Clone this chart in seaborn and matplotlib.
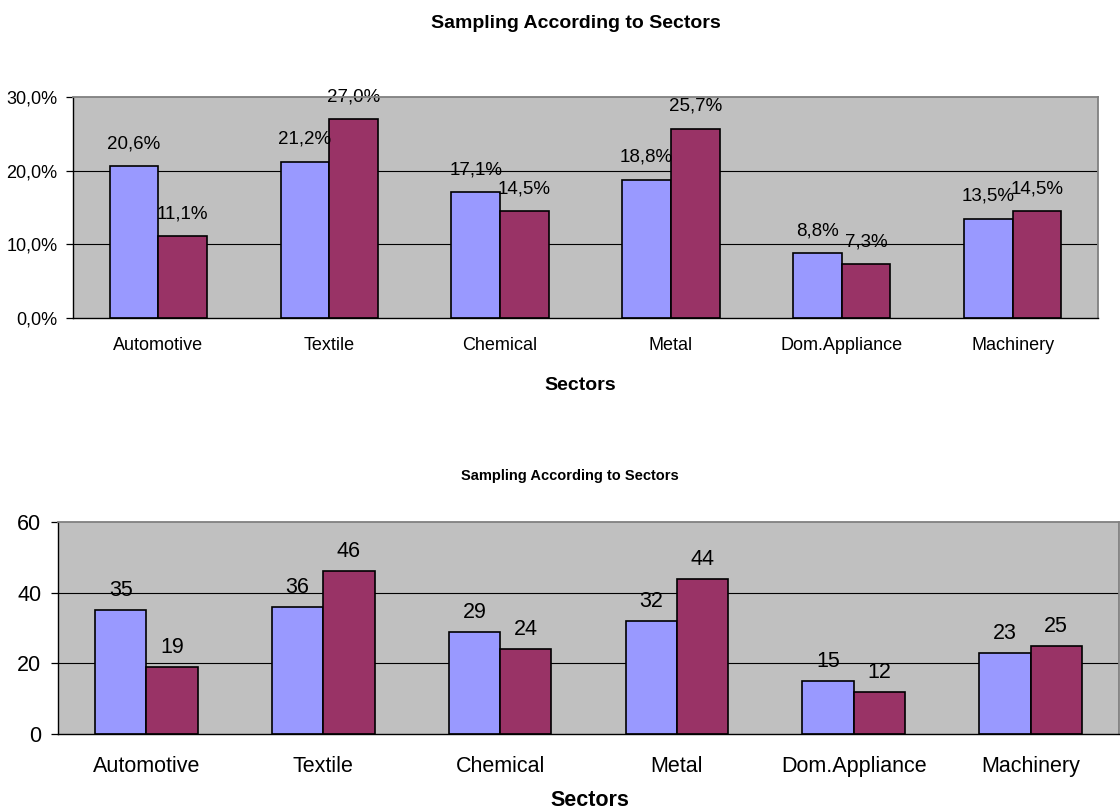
import matplotlib
matplotlib.use("Agg")
import matplotlib.pyplot as plt
from matplotlib import font_manager
from matplotlib.ticker import FuncFormatter, FixedLocator
import seaborn as sns
import pandas as pd

# --- data ---------------------------------------------------------------
sectors = ["Automotive", "Textile", "Chemical", "Metal", "Dom.Appliance", "Machinery"]
series_names = ["Series A", "Series B"]
pct_a = [20.6, 21.2, 17.1, 18.8, 8.8, 13.5]
pct_b = [11.1, 27.0, 14.5, 25.7, 7.3, 14.5]
count_a = [35, 36, 29, 32, 15, 23]
count_b = [19, 46, 24, 44, 12, 25]
title = "Sampling According to Sectors"
x_title = "Sectors"

# --- style --------------------------------------------------------------
sns.set_style("white")
available = {f.name for f in font_manager.fontManager.ttflist}
NARROW = "Liberation Sans Narrow" if "Liberation Sans Narrow" in available else "Liberation Sans"
SANS = "Liberation Sans" if "Liberation Sans" in available else "DejaVu Sans"
plt.rcParams["font.family"] = [SANS, "DejaVu Sans"]
plt.rcParams["text.color"] = "black"
plt.rcParams["xtick.color"] = "black"
plt.rcParams["ytick.color"] = "black"

BLUE = "#9999FF"
PLUM = "#993366"
PLOT_BG = "#C0C0C0"
FRAME_GREY = "#808080"

W, H = 1120, 810
fig = plt.figure(figsize=(W / 100, H / 100), dpi=100)
fig.patch.set_facecolor("white")


def px_axes(left, top, right, bottom):
    return fig.add_axes([left / W, 1 - bottom / H, (right - left) / W, (bottom - top) / H])


def long_frame(a, b):
    return pd.DataFrame({
        "sector": sectors * 2,
        "series": [series_names[0]] * len(sectors) + [series_names[1]] * len(sectors),
        "value": list(a) + list(b),
    })


def style_axes(ax, ymax, ystep, font, fsize, ylabel_fmt, tick_pad_y, tick_pad_x):
    ax.set_facecolor(PLOT_BG)
    ax.set_ylim(0, ymax)
    ax.set_xlim(-0.5, len(sectors) - 0.5)
    ax.set_xlabel("")
    ax.set_ylabel("")
    yt = list(range(0, ymax + 1, ystep))
    ax.yaxis.set_major_locator(FixedLocator(yt))
    ax.yaxis.set_major_formatter(FuncFormatter(ylabel_fmt))
    for v in yt[1:-1]:
        ax.axhline(v, color="black", lw=0.8, zorder=0.5)
    # category separators as ticks on the x axis
    ax.set_xticks([i - 0.5 for i in range(len(sectors) + 1)], minor=True)
    ax.tick_params(axis="x", which="minor", length=5, width=0.9, color="black", direction="out")
    ax.tick_params(axis="x", which="major", length=0, pad=tick_pad_x)
    ax.tick_params(axis="y", which="major", length=5, width=0.9, color="black",
                   direction="out", pad=tick_pad_y, left=True)
    for lab in ax.get_xticklabels() + ax.get_yticklabels():
        lab.set_fontfamily(font)
        lab.set_fontsize(fsize)
        lab.set_color("black")
    for side in ("left", "bottom"):
        ax.spines[side].set_color("black")
        ax.spines[side].set_linewidth(1.0)
    for side in ("top", "right"):
        ax.spines[side].set_color(FRAME_GREY)
        ax.spines[side].set_linewidth(1.3)
    for side in ax.spines.values():
        side.set_visible(True)
        side.set_zorder(3)


# --- top chart: shares ----------------------------------------------------
ax1 = px_axes(73, 97, 1098, 318)
sns.barplot(data=long_frame(pct_a, pct_b), x="sector", y="value", hue="series",
            palette=[BLUE, PLUM], width=0.57, edgecolor="black", linewidth=1.2,
            saturation=1, legend=False, ax=ax1, zorder=2)
style_axes(ax1, 30, 10, NARROW, 13,
           lambda v, p: f"{v:.1f}%".replace(".", ","), 6, 14)
for cont in ax1.containers:
    ax1.bar_label(cont, labels=[f"{v:.1f}%".replace(".", ",") for v in cont.datavalues],
                  padding=10, fontsize=13.5, fontfamily=NARROW, color="black")

fig.text(576 / W, 1 - 23 / H, title, ha="center", va="center",
         fontsize=14, fontweight="bold", fontfamily=NARROW)
fig.text(580 / W, 1 - 386 / H, x_title, ha="center", va="center",
         fontsize=14, fontweight="bold", fontfamily=NARROW)

# --- bottom chart: counts -------------------------------------------------
ax2 = px_axes(58, 522, 1119, 734)
sns.barplot(data=long_frame(count_a, count_b), x="sector", y="value", hue="series",
            palette=[BLUE, PLUM], width=0.58, edgecolor="black", linewidth=1.2,
            saturation=1, legend=False, ax=ax2, zorder=2)
style_axes(ax2, 60, 20, SANS, 15.5, lambda v, p: f"{v:.0f}", 7, 16)
for cont in ax2.containers:
    ax2.bar_label(cont, labels=[f"{v:.0f}" for v in cont.datavalues],
                  padding=6.5, fontsize=15.5, fontfamily=SANS, color="black")

fig.text(570 / W, 1 - 476 / H, title, ha="center", va="center",
         fontsize=10.5, fontweight="bold", fontfamily=SANS)
fig.text(590 / W, 1 - 800 / H, x_title, ha="center", va="center",
         fontsize=15.5, fontweight="bold", fontfamily=SANS)

fig.savefig("out.png", dpi=100, facecolor="white")
